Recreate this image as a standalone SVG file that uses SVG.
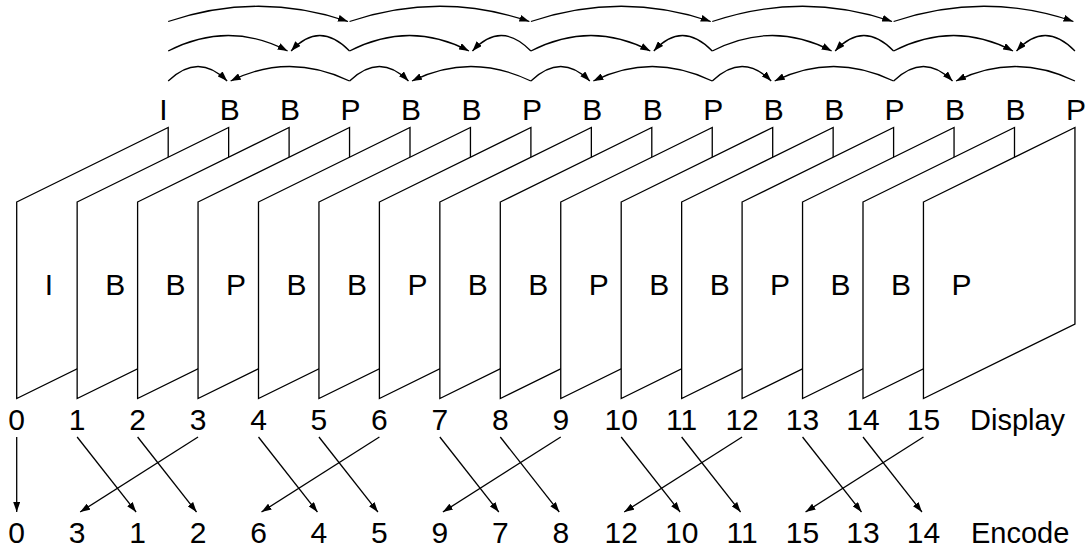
<svg xmlns="http://www.w3.org/2000/svg" xmlns:xlink="http://www.w3.org/1999/xlink" width="1087" height="550" viewBox="0 0 1087 550">
<style>
.fr{fill:#fff;stroke:#000;stroke-width:1.3}
.lbl{font-family:"Liberation Sans",Arial,sans-serif;font-size:30px;fill:#000}
.num{font-family:"Liberation Sans",Arial,sans-serif;font-size:30px;fill:#000;text-anchor:middle}
.word{font-family:"Liberation Sans",Arial,sans-serif;font-size:29px;fill:#000}
.c{fill:none;stroke:#000;stroke-width:1.3;marker-end:url(#ah)}
</style>
<defs>
<marker id="ah" viewBox="0 0 10 7" markerWidth="10" markerHeight="7" refX="10" refY="3.5" orient="auto" markerUnits="userSpaceOnUse"><path d="M0,0 L10,3.5 L0,7 z" fill="#000"/></marker>
<polygon id="frame" class="fr" points="0,202 151.5,127.5 151.5,324 0,398.5"/>
</defs>
<rect width="1087" height="550" fill="#fff"/>
<g id="frame0" transform="translate(16.7,0)"><use xlink:href="#frame"/><text class="lbl" x="28" y="294.5">I</text><text class="lbl" x="142.5" y="119.5">I</text><text class="num" x="0" y="430">0</text></g>
<g id="frame1" transform="translate(77.15,0)"><use xlink:href="#frame"/><text class="lbl" x="28" y="294.5">B</text><text class="lbl" x="142.5" y="119.5">B</text><text class="num" x="0" y="430">1</text></g>
<g id="frame2" transform="translate(137.6,0)"><use xlink:href="#frame"/><text class="lbl" x="28" y="294.5">B</text><text class="lbl" x="142.5" y="119.5">B</text><text class="num" x="0" y="430">2</text></g>
<g id="frame3" transform="translate(198.05,0)"><use xlink:href="#frame"/><text class="lbl" x="28" y="294.5">P</text><text class="lbl" x="142.5" y="119.5">P</text><text class="num" x="0" y="430">3</text></g>
<g id="frame4" transform="translate(258.5,0)"><use xlink:href="#frame"/><text class="lbl" x="28" y="294.5">B</text><text class="lbl" x="142.5" y="119.5">B</text><text class="num" x="0" y="430">4</text></g>
<g id="frame5" transform="translate(318.95,0)"><use xlink:href="#frame"/><text class="lbl" x="28" y="294.5">B</text><text class="lbl" x="142.5" y="119.5">B</text><text class="num" x="0" y="430">5</text></g>
<g id="frame6" transform="translate(379.4,0)"><use xlink:href="#frame"/><text class="lbl" x="28" y="294.5">P</text><text class="lbl" x="142.5" y="119.5">P</text><text class="num" x="0" y="430">6</text></g>
<g id="frame7" transform="translate(439.85,0)"><use xlink:href="#frame"/><text class="lbl" x="28" y="294.5">B</text><text class="lbl" x="142.5" y="119.5">B</text><text class="num" x="0" y="430">7</text></g>
<g id="frame8" transform="translate(500.3,0)"><use xlink:href="#frame"/><text class="lbl" x="28" y="294.5">B</text><text class="lbl" x="142.5" y="119.5">B</text><text class="num" x="0" y="430">8</text></g>
<g id="frame9" transform="translate(560.75,0)"><use xlink:href="#frame"/><text class="lbl" x="28" y="294.5">P</text><text class="lbl" x="142.5" y="119.5">P</text><text class="num" x="0" y="430">9</text></g>
<g id="frame10" transform="translate(621.2,0)"><use xlink:href="#frame"/><text class="lbl" x="28" y="294.5">B</text><text class="lbl" x="142.5" y="119.5">B</text><text class="num" x="0" y="430">10</text></g>
<g id="frame11" transform="translate(681.65,0)"><use xlink:href="#frame"/><text class="lbl" x="28" y="294.5">B</text><text class="lbl" x="142.5" y="119.5">B</text><text class="num" x="0" y="430">11</text></g>
<g id="frame12" transform="translate(742.1,0)"><use xlink:href="#frame"/><text class="lbl" x="28" y="294.5">P</text><text class="lbl" x="142.5" y="119.5">P</text><text class="num" x="0" y="430">12</text></g>
<g id="frame13" transform="translate(802.55,0)"><use xlink:href="#frame"/><text class="lbl" x="28" y="294.5">B</text><text class="lbl" x="142.5" y="119.5">B</text><text class="num" x="0" y="430">13</text></g>
<g id="frame14" transform="translate(863,0)"><use xlink:href="#frame"/><text class="lbl" x="28" y="294.5">B</text><text class="lbl" x="142.5" y="119.5">B</text><text class="num" x="0" y="430">14</text></g>
<g id="frame15" transform="translate(923.45,0)"><use xlink:href="#frame"/><text class="lbl" x="28" y="294.5">P</text><text class="lbl" x="142.5" y="119.5">P</text><text class="num" x="0" y="430">15</text></g>
<g id="display-label"><text class="word" x="970" y="430">Display</text></g>
<g id="encode-row">
<text class="num" x="16.7" y="543">0</text>
<text class="num" x="77.15" y="543">3</text>
<text class="num" x="137.6" y="543">1</text>
<text class="num" x="198.05" y="543">2</text>
<text class="num" x="258.5" y="543">6</text>
<text class="num" x="318.95" y="543">4</text>
<text class="num" x="379.4" y="543">5</text>
<text class="num" x="439.85" y="543">9</text>
<text class="num" x="500.3" y="543">7</text>
<text class="num" x="560.75" y="543">8</text>
<text class="num" x="621.2" y="543">12</text>
<text class="num" x="681.65" y="543">10</text>
<text class="num" x="742.1" y="543">11</text>
<text class="num" x="802.55" y="543">15</text>
<text class="num" x="863" y="543">13</text>
<text class="num" x="923.45" y="543">14</text>
<text class="word" x="971" y="543">Encode</text>
</g>
<g id="connectors">
<path class="c" d="M168.2,21.5 Q258.9,-9 348,21.5"/>
<path class="c" d="M349.55,21.5 Q440.2,-9 529.4,21.5"/>
<path class="c" d="M530.9,21.5 Q621.6,-9 710.75,21.5"/>
<path class="c" d="M712.25,21.5 Q803,-9 892.1,21.5"/>
<path class="c" d="M893.6,21.5 Q984.3,-9 1073.45,21.5"/>
<path class="c" d="M168.2,51 Q228.65,20 287.6,51"/>
<path class="c" d="M349.55,51 Q319.3,20 291.1,51"/>
<path class="c" d="M349.55,51 Q410,20 468.95,51"/>
<path class="c" d="M530.9,51 Q500.7,20 472.45,51"/>
<path class="c" d="M530.9,51 Q591.35,20 650.3,51"/>
<path class="c" d="M712.25,51 Q682,20 653.8,51"/>
<path class="c" d="M712.25,51 Q772.7,20 831.65,51"/>
<path class="c" d="M893.6,51 Q863.4,20 835.15,51"/>
<path class="c" d="M893.6,51 Q954.05,20 1013,51"/>
<path class="c" d="M1074.95,51 Q1044.7,20 1016.5,51"/>
<path class="c" d="M168.2,81 Q198.4,52 227.15,81"/>
<path class="c" d="M349.55,81 Q289.1,52 230.65,81"/>
<path class="c" d="M349.55,81 Q379.8,52 408.5,81"/>
<path class="c" d="M530.9,81 Q470.45,52 412,81"/>
<path class="c" d="M530.9,81 Q561.1,52 589.85,81"/>
<path class="c" d="M712.25,81 Q651.8,52 593.35,81"/>
<path class="c" d="M712.25,81 Q742.5,52 771.2,81"/>
<path class="c" d="M893.6,81 Q833.15,52 774.7,81"/>
<path class="c" d="M893.6,81 Q923.8,52 952.55,81"/>
<path class="c" d="M1074.95,81 Q1014.5,52 956.05,81"/>
<path class="c" d="M16.7,437 L16.7,512"/>
<path class="c" d="M77.15,437 L136.1,512"/>
<path class="c" d="M137.6,437 L196.55,512"/>
<path class="c" d="M198.05,437 L80.15,512"/>
<path class="c" d="M258.5,437 L317.45,512"/>
<path class="c" d="M318.95,437 L377.9,512"/>
<path class="c" d="M379.4,437 L261.5,512"/>
<path class="c" d="M439.85,437 L498.8,512"/>
<path class="c" d="M500.3,437 L559.25,512"/>
<path class="c" d="M560.75,437 L442.85,512"/>
<path class="c" d="M621.2,437 L680.15,512"/>
<path class="c" d="M681.65,437 L740.6,512"/>
<path class="c" d="M742.1,437 L624.2,512"/>
<path class="c" d="M802.55,437 L861.5,512"/>
<path class="c" d="M863,437 L921.95,512"/>
<path class="c" d="M923.45,437 L805.55,512"/>
</g>
</svg>
